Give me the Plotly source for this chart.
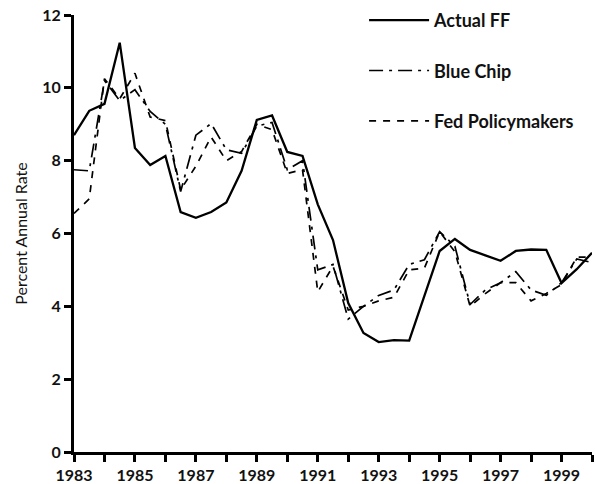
import plotly.graph_objects as go

years = [1983.0 + 0.5 * i for i in range(35)]

actual_ff = [8.70, 9.37, 9.56, 11.24, 8.35, 7.88, 8.13, 6.59, 6.43, 6.59,
             6.85, 7.72, 9.12, 9.24, 8.24, 8.13, 6.80, 5.82, 4.09, 3.27,
             3.02, 3.07, 3.06, 4.30, 5.52, 5.85, 5.55, 5.40, 5.25, 5.52,
             5.56, 5.55, 4.64, 5.02, 5.47]

blue_chip = [7.75, 7.72, 10.20, 9.65, 9.95, 9.35, 9.00, 7.15, 8.70, 9.02,
             8.30, 8.20, 8.95, 9.05, 7.75, 8.00, 5.00, 5.15, 3.65, 4.00,
             4.30, 4.45, 5.15, 5.28, 6.05, 5.65, 4.05, 4.45, 4.65, 4.95,
             4.45, 4.30, 4.65, 5.30, 5.20]

fed_policymakers = [6.55, 6.95, 10.25, 9.70, 10.40, 9.20, 9.10, 7.20, 7.85, 8.65,
                    8.00, 8.25, 9.00, 8.85, 7.65, 7.75, 4.40, 5.10, 3.90, 4.00,
                    4.15, 4.25, 5.00, 5.05, 6.05, 5.50, 4.00, 4.35, 4.65, 4.65,
                    4.15, 4.35, 4.60, 5.35, 5.35]

x_tickvals = list(range(1983, 2001))
x_ticktext = [str(y) if (y - 1983) % 2 == 0 and y < 2000 else "" for y in x_tickvals]
y_tickvals = [0, 2, 4, 6, 8, 10, 12]

fig = go.Figure()
fig.add_trace(go.Scatter(x=years, y=actual_ff, mode="lines", name="Actual FF",
                         legendgroup="a",
                         line=dict(color="black", width=2.3)))
fig.add_trace(go.Scatter(x=years, y=blue_chip, mode="lines", name="Blue Chip",
                         legendgroup="b",
                         line=dict(color="black", width=1.7, dash="14px,6px,3px,6px")))
fig.add_trace(go.Scatter(x=years, y=fed_policymakers, mode="lines", name="Fed Policymakers",
                         legendgroup="c",
                         line=dict(color="black", width=1.7, dash="7px,7px")))

fig.update_layout(
    width=596, height=484,
    margin=dict(l=74, r=4, t=15, b=32, autoexpand=False),
    paper_bgcolor="white", plot_bgcolor="white",
    font=dict(family="Lato, Open Sans, sans-serif", color="#111111", size=16),
    showlegend=True,
    legend=dict(x=0.56, y=1.03, xanchor="left", yanchor="top",
                bgcolor="rgba(0,0,0,0)", tracegroupgap=24, itemwidth=60,
                font=dict(size=18, weight=700, color="#111111")),
)
fig.update_xaxes(range=[1983, 2000], tickmode="array", tickvals=x_tickvals,
                 ticktext=x_ticktext, showgrid=False, zeroline=False,
                 showline=True, linecolor="black", linewidth=3,
                 ticks="outside", ticklen=7, tickwidth=3, tickcolor="black",
                 automargin=False, ticklabeloverflow="allow",
                 tickfont=dict(size=16, weight=700, color="#111111"))
fig.update_yaxes(range=[0, 12], tickmode="array", tickvals=y_tickvals,
                 showgrid=False, zeroline=False,
                 showline=True, linecolor="black", linewidth=3,
                 ticks="outside", ticklen=7, tickwidth=3, tickcolor="black",
                 automargin=False, ticklabeloverflow="allow",
                 tickfont=dict(size=16, weight=700, color="#111111"),
                 title=dict(text="Percent Annual Rate", standoff=11,
                            font=dict(size=16, color="#111111")))

fig.write_html("out.html", config={"displayModeBar": False},
               post_script="document.body.style.margin='0';")
